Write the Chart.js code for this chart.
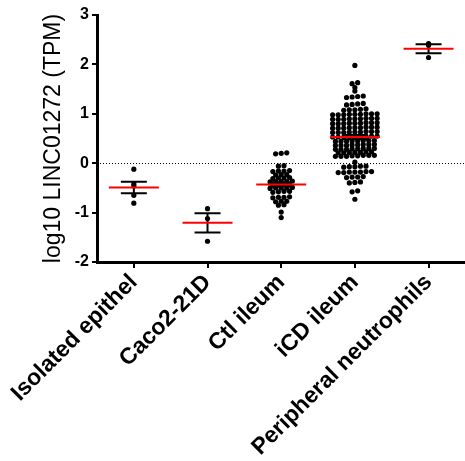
<!DOCTYPE html>
<html>
<head>
<meta charset="utf-8">
<script src="https://cdn.jsdelivr.net/npm/chart.js@4.4.1/dist/chart.umd.min.js"></script>
<style>
  html, body { margin: 0; padding: 0; background: #fff; overflow: hidden; }
  #wrap { width: 468px; height: 461px; }
</style>
</head>
<body>
<div id="wrap"><canvas id="dotChart"></canvas></div>
<script>
// categories along the x axis
const categories = ['Isolated epithel', 'Caco2-21D', 'Ctl ileum', 'iCD ileum', 'Peripheral neutrophils'];
const yTicks = [-2, -1, 0, 1, 2, 3];

// log10 TPM values
const isolatedEpithel = [-0.12, -0.42, -0.46, -0.65, -0.81];
const caco2 = [-0.92, -1.12, -1.58];
const ctlIleum = [
  0.20, 0.19, 0.21,
  -0.05, -0.06,
  -0.15, -0.16, -0.17, -0.16,
  -0.23, -0.24, -0.23,
  -0.30, -0.30, -0.31, -0.29,
  -0.37, -0.37, -0.38, -0.36, -0.37,
  -0.43, -0.43, -0.44, -0.44,
  -0.50, -0.50, -0.51, -0.50, -0.49,
  -0.57, -0.58, -0.59, -0.57,
  -0.69, -0.68, -0.70, -0.69,
  -0.77, -0.77, -0.78,
  -0.84, -0.85,
  -0.99, -1.10
];
const icdIleum = [
  1.98,
  1.63, 1.61,
  1.53,
  1.46,
  1.35, 1.34, 1.36, 1.33,
  1.20, 1.19, 1.21, 1.18,
  1.09, 1.08, 1.10, 1.07, 1.08,
  0.99, 1.00, 0.98, 0.99, 1.00, 0.98, 0.99, 0.98, 1.00,
  0.90, 0.91, 0.89, 0.90, 0.91, 0.89, 0.91, 0.89, 0.90,
  0.81, 0.82, 0.80, 0.81, 0.82, 0.80, 0.82, 0.80, 0.81,
  0.72, 0.73, 0.71, 0.72, 0.73, 0.71, 0.73, 0.71, 0.72,
  0.63, 0.64, 0.62, 0.63, 0.64, 0.62, 0.64, 0.62, 0.63,
  0.54, 0.55, 0.53, 0.54, 0.55, 0.53, 0.55, 0.53, 0.54,
  0.45, 0.46, 0.44, 0.45, 0.46, 0.44, 0.46, 0.44,
  0.37, 0.38, 0.36, 0.37, 0.38, 0.36, 0.38, 0.36,
  0.29, 0.30, 0.28, 0.29, 0.30, 0.28, 0.30, 0.28,
  0.22, 0.23, 0.21, 0.22, 0.23, 0.21, 0.22,
  0.15, 0.16, 0.14, 0.15, 0.16, 0.14, 0.16, 0.14,
  0.02,
  -0.07, -0.06, -0.08, -0.07, -0.06,
  -0.18, -0.19, -0.17, -0.18, -0.19, -0.17, -0.18,
  -0.28, -0.29, -0.27, -0.28,
  -0.39, -0.40, -0.38,
  -0.56, -0.58,
  -0.73
];
const neutrophils = [2.42, 2.39, 2.14];

const groups = [isolatedEpithel, caco2, ctlIleum, icdIleum, neutrophils];

const ROW_GAP = 0.025; // values closer than this share a row of the swarm
const COL = 0.0755;    // spacing between dots in a row (x units)

// lay the dots out in centred rows, like a GraphPad scatter dot plot
function swarm(vals, i) {
  const sorted = vals.slice().sort((a, b) => a - b);
  const rows = [];
  sorted.forEach(v => {
    const last = rows[rows.length - 1];
    if (last && v - last[last.length - 1] <= ROW_GAP) last.push(v);
    else rows.push([v]);
  });
  const pts = [];
  rows.forEach(r => {
    r.forEach((v, j) => pts.push({ x: i + (j - (r.length - 1) / 2) * COL, y: v }));
  });
  return pts;
}

function summary(vals) {
  const n = vals.length;
  const mean = vals.reduce((a, b) => a + b, 0) / n;
  const sd = Math.sqrt(vals.reduce((a, b) => a + (b - mean) ** 2, 0) / (n - 1));
  return { mean: mean, sem: sd / Math.sqrt(n) };
}

const statsPlugin = {
  id: 'statsPlugin',
  beforeDatasetsDraw(chart) {
    const { ctx, chartArea, scales: { x, y } } = chart;
    ctx.save();
    // dotted line at zero
    ctx.strokeStyle = '#000';
    ctx.lineWidth = 1;
    ctx.setLineDash([1, 2]);
    const y0 = Math.round(y.getPixelForValue(0)) + 0.5;
    ctx.beginPath();
    ctx.moveTo(chartArea.left, y0);
    ctx.lineTo(chartArea.right, y0);
    ctx.stroke();
    ctx.setLineDash([]);
    // SEM error bars
    ctx.strokeStyle = '#000';
    ctx.lineWidth = 2;
    groups.forEach((vals, i) => {
      const s = summary(vals);
      const px = x.getPixelForValue(i);
      const top = y.getPixelForValue(s.mean + s.sem);
      const bot = y.getPixelForValue(s.mean - s.sem);
      ctx.beginPath();
      ctx.moveTo(px, top); ctx.lineTo(px, bot);
      ctx.moveTo(px - 13, top); ctx.lineTo(px + 13, top);
      ctx.moveTo(px - 13, bot); ctx.lineTo(px + 13, bot);
      ctx.stroke();
    });
    ctx.restore();
  },
  afterDatasetsDraw(chart) {
    const { ctx, scales: { x, y } } = chart;
    ctx.save();
    ctx.strokeStyle = '#ff0000';
    ctx.lineWidth = 2;
    groups.forEach((vals, i) => {
      const s = summary(vals);
      const px = x.getPixelForValue(i);
      const py = y.getPixelForValue(s.mean);
      ctx.beginPath();
      ctx.moveTo(px - 25, py);
      ctx.lineTo(px + 25, py);
      ctx.stroke();
    });
    ctx.restore();
  }
};

const labelFont = "'Liberation Sans', Arial, sans-serif";

new Chart(document.getElementById('dotChart'), {
  type: 'scatter',
  data: {
    datasets: groups.map((vals, i) => ({
      label: categories[i],
      data: swarm(vals, i),
      backgroundColor: '#000',
      borderWidth: 0,
      pointRadius: 2.6,
      pointHoverRadius: 2.6
    }))
  },
  options: {
    responsive: true,
    maintainAspectRatio: false,
    animation: false,
    layout: { padding: { top: 15, right: 0 } },
    plugins: {
      legend: { display: false },
      tooltip: { enabled: false }
    },
    scales: {
      x: {
        type: 'linear',
        min: -0.5,
        max: 4.5,
        afterBuildTicks: scale => { scale.ticks = categories.map((c, i) => ({ value: i })); },
        afterFit: scale => { scale.height = 199; },
        ticks: {
          callback: v => categories[v],
          autoSkip: false,
          maxRotation: 45,
          minRotation: 45,
          padding: 1,
          color: '#000',
          font: { family: labelFont, size: 23, weight: 'bold' }
        },
        grid: { drawOnChartArea: false, drawTicks: true, tickLength: 6, color: '#000', lineWidth: 2 },
        border: { display: true, color: '#000', width: 3 }
      },
      y: {
        min: -2,
        max: 3,
        afterBuildTicks: scale => { scale.ticks = yTicks.map(v => ({ value: v })); },
        afterFit: scale => { scale.width = 97; },
        ticks: {
          padding: 3,
          color: '#000',
          font: { family: labelFont, size: 16, weight: 'bold' }
        },
        grid: { drawOnChartArea: false, drawTicks: true, tickLength: 5, color: '#000', lineWidth: 2 },
        border: { display: true, color: '#000', width: 3 },
        title: {
          display: true,
          text: 'log10 LINC01272 (TPM)',
          color: '#000',
          padding: { top: 40, bottom: 0 },
          font: { family: labelFont, size: 23, weight: 'normal' }
        }
      }
    }
  },
  plugins: [statsPlugin]
});
</script>
</body>
</html>
